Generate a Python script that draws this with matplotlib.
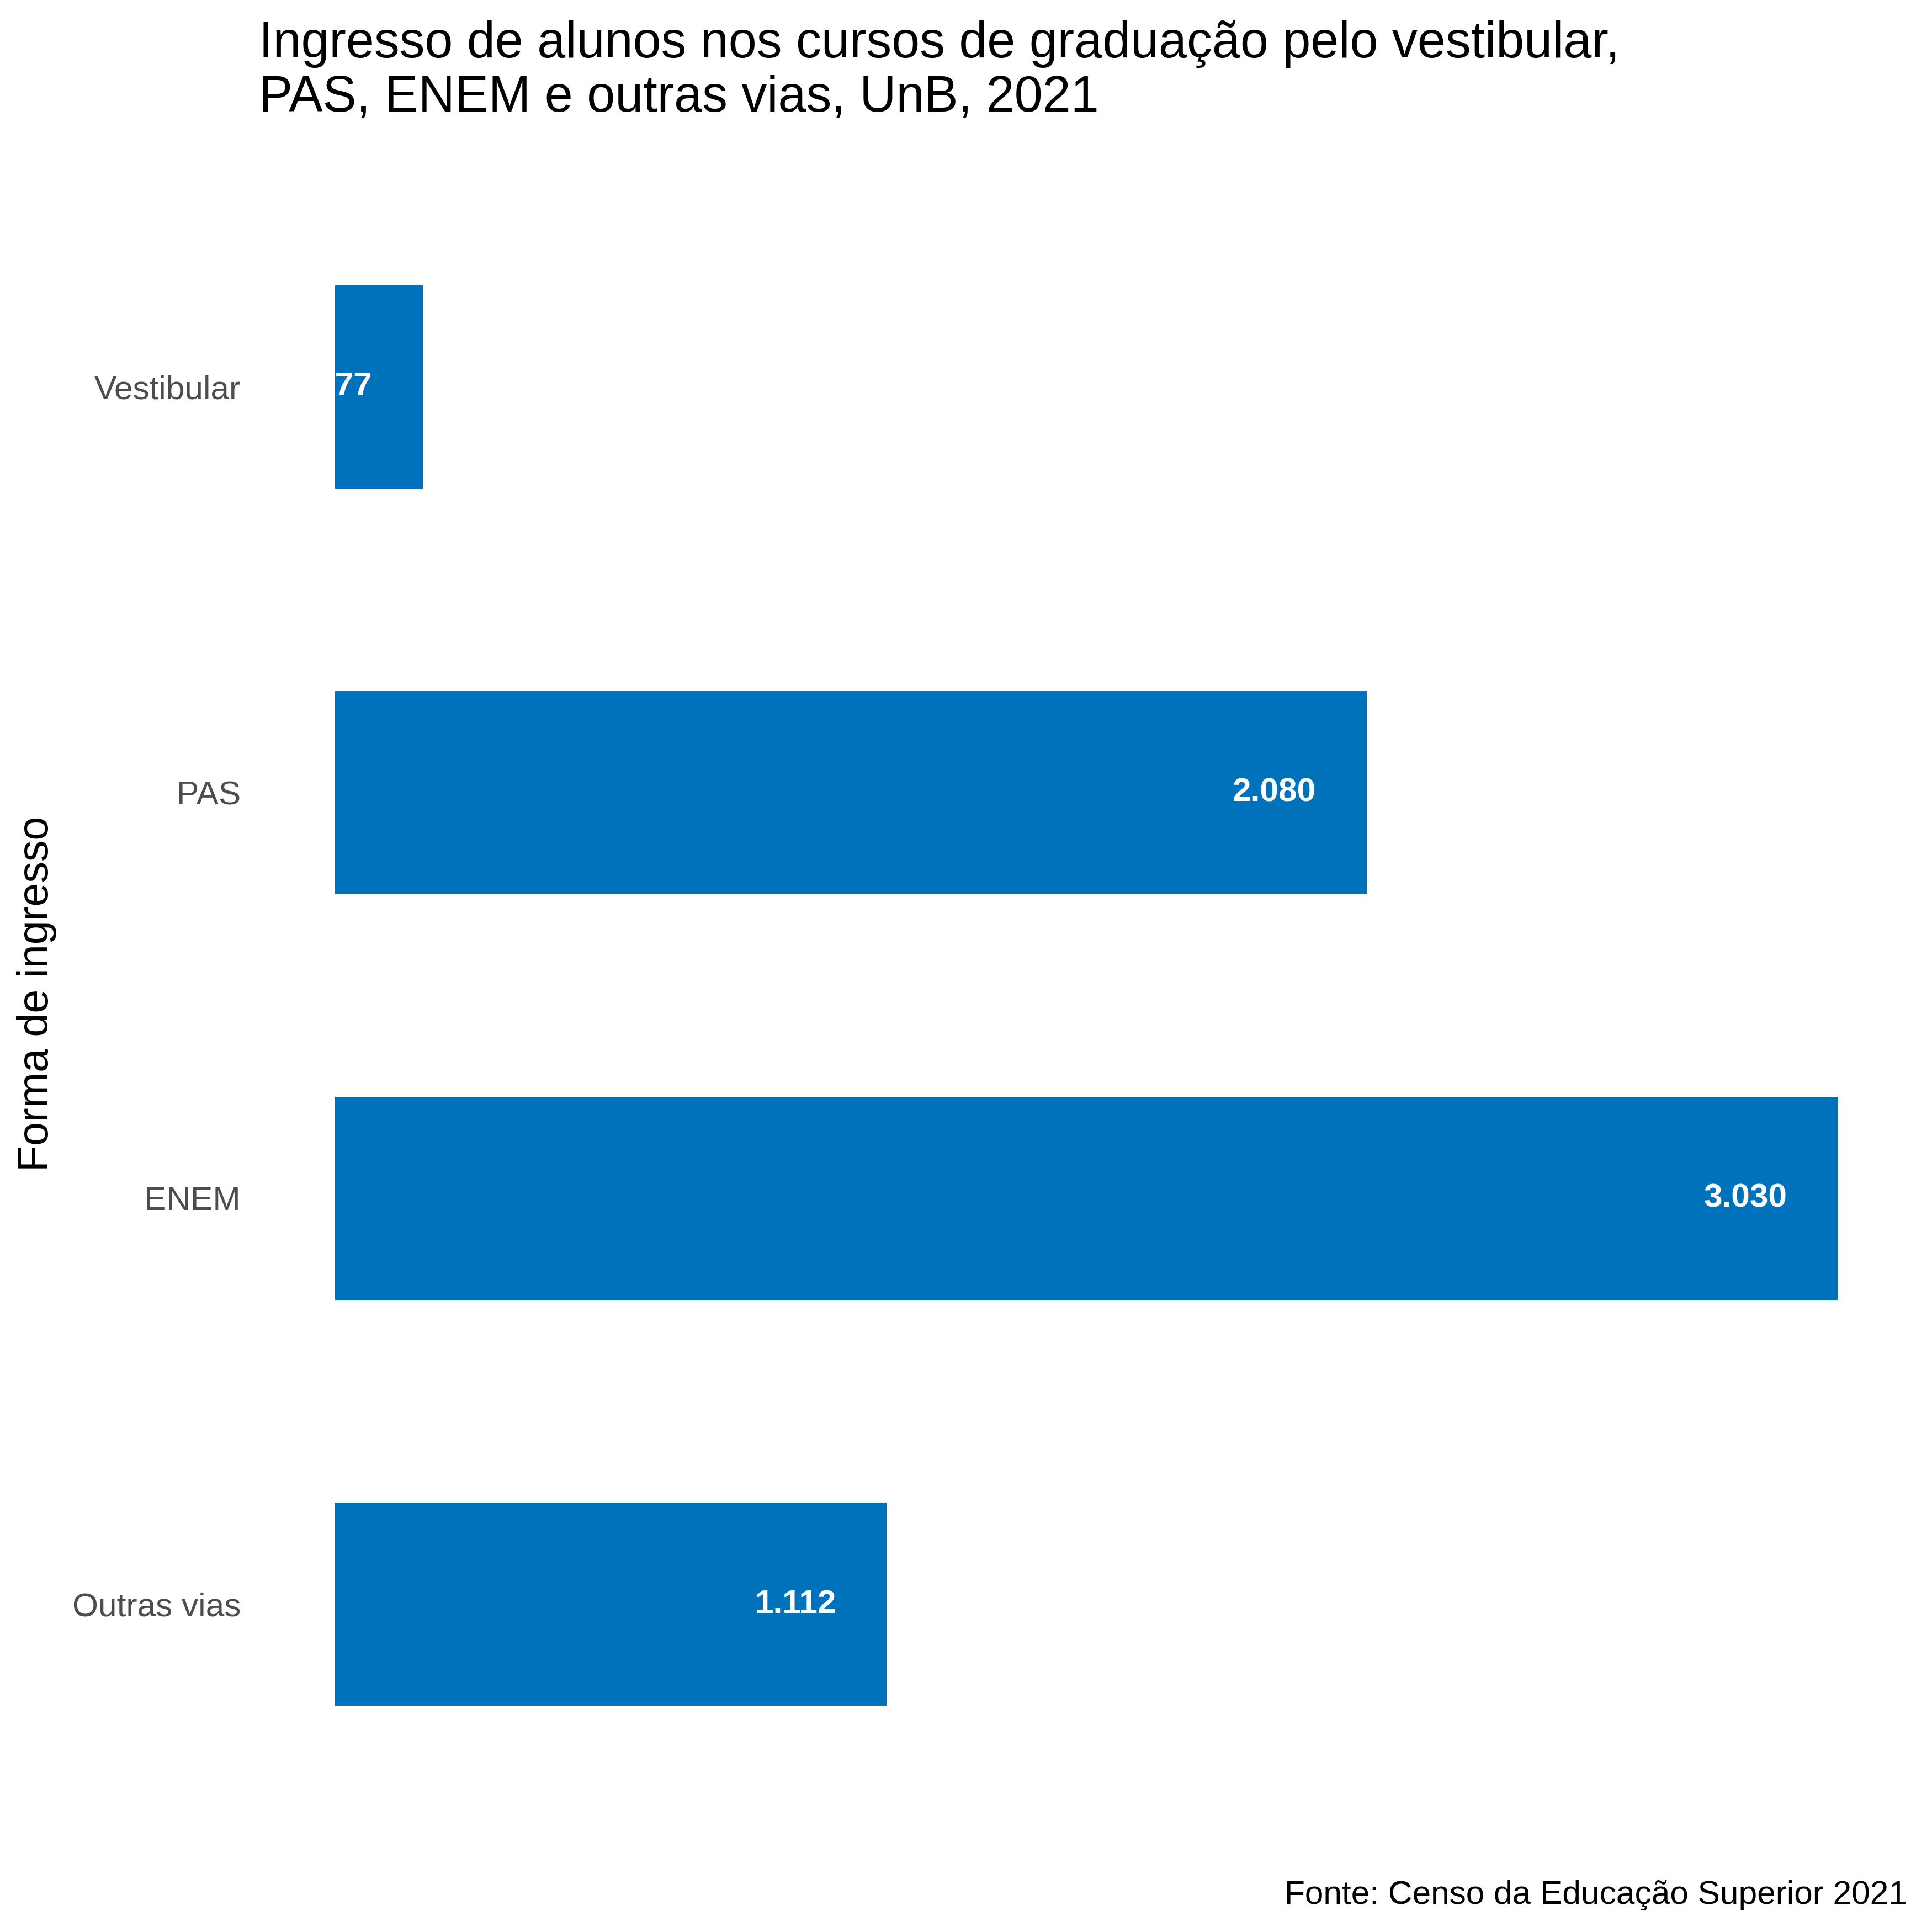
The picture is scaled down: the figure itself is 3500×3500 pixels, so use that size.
import matplotlib
matplotlib.use("Agg")
import matplotlib.pyplot as plt

# Ingresso por forma, UnB 2021
formas = ["Vestibular", "PAS", "ENEM", "Outras vias"]
ingressos = [177, 2080, 3030, 1112]
rotulos = ["177", "2.080", "3.030", "1.112"]

plt.rcParams["font.family"] = ["Liberation Sans", "DejaVu Sans"]

W = 3500
fig = plt.figure(figsize=(W / 300, W / 300), dpi=300)
ax = fig.add_axes([607 / W, 1 - 3347 / W, (3465 - 607) / W, (3347 - 260) / W])

pos = list(range(len(formas)))[::-1]
ax.barh(pos, ingressos, height=0.5, color="#0072BC")
for p, v, lab in zip(pos, ingressos, rotulos):
    t = ax.annotate(lab, (v, p), xytext=(-22, 0), textcoords="offset points",
                    ha="right", va="center", color="white", fontweight="bold",
                    fontsize=14.5, annotation_clip=False)
    # rótulo cortado na borda do painel, como no original
    t.set_clip_path(ax.patch)

ax.set_xlim(0, max(ingressos) * 1.05)
ax.set_ylim(-0.6, len(formas) - 1 + 0.6)
ax.set_yticks(pos)
ax.set_yticklabels(formas, fontsize=14.5, color="#4D4D4D")
ax.tick_params(axis="y", length=0, pad=41)
ax.set_xticks([])
for s in ax.spines.values():
    s.set_visible(False)

fig.text(67 / W, 1 - 1800 / W, "Forma de ingresso", rotation=90,
         ha="center", va="center", fontsize=18.5)
fig.text(469 / W, 1 - 202 / W,
         "Ingresso de alunos nos cursos de graduação pelo vestibular,\nPAS, ENEM e outras vias, UnB, 2021",
         ha="left", va="baseline", fontsize=22, linespacing=1.18)
fig.text(3455 / W, 1 - 3449 / W, "Fonte: Censo da Educação Superior 2021",
         ha="right", va="baseline", fontsize=14.5)

fig.savefig("out.png", dpi=300, facecolor="white")
